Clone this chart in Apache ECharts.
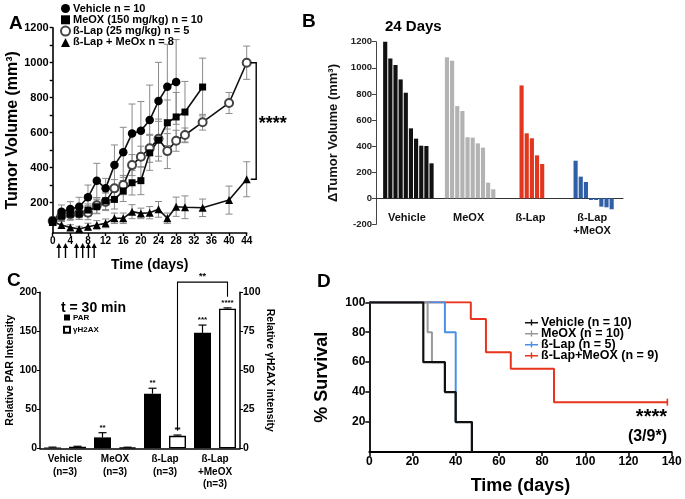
<!DOCTYPE html>
<html><head><meta charset="utf-8">
<script src="https://cdn.jsdelivr.net/npm/echarts@6/dist/echarts.min.js"></script>
<style>html,body{margin:0;padding:0;background:#fff}#c{width:685px;height:499px}</style>
</head><body><div id="c"></div>
<script>
// ---------- Panel A data ----------
const vehDays = [0,2,4,6,8,10,12,14,16,18,20,22,24,26,28];
const vehVals = [97,149,164,177,231,326,282,415,488,596,611,672,781,863,890];
const vehErr  = [20,38,42,54,70,99,57,115,143,168,167,200,221,242,242];
const meoDays = [0,2,4,6,8,10,12,14,16,18,20,22,24,26,28,30,34];
const meoVals = [90,124,135,135,158,177,211,219,267,314,326,485,558,657,690,718,861];
const meoErr  = [15,25,30,30,35,40,50,55,60,70,80,100,120,130,140,175,165];
const lapDays = [0,2,4,6,8,10,12,14,16,18,20,22,24,26,28,30,34,40,44];
const lapVals = [95,125,135,140,143,185,205,282,301,415,463,511,565,495,554,587,660,770,1000];
const lapErr  = [20,30,35,35,40,45,50,50,55,60,60,80,100,100,60,40,45,60,95];
const comDays = [0,2,4,6,8,10,12,14,16,18,20,22,24,26,28,30,34,40,44];
const comVals = [90,73,59,50,63,73,82,111,111,149,139,143,162,111,177,174,171,215,334];
const comErr  = [20,20,15,15,20,25,25,30,30,40,30,35,45,30,55,65,50,80,100];
const arrowDays = [1.4,2.9,5.4,6.8,8.1,9.4];
const aNames = ['Vehicle n = 10','MeOX (150 mg/kg) n = 10','ß-Lap (25 mg/kg) n = 5','ß-Lap + MeOx n = 8'];
const aYLabels = [200,400,600,800,1000,1200];
const aYTicks = [100,200,300,400,500,600,700,800,900,1000,1100,1200];

// ---------- Panel B data ----------
const bCats = ['Vehicle','MeOX','ß-Lap','ß-Lap\n+MeOX'];
const bVeh = [1200,1072,1021,911,809,536,457,403,401,268];
const bMeo = [1080,1054,707,669,468,465,421,388,120,69];
const bLap = [865,498,460,329,263];
const bCom = [288,166,125,-13,-13,-64,-69,-84];
const bColors = ['#111111','#b3b3b3','#e2361f','#2f5fa6'];

// ---------- Panel C data ----------
const cCats = ['Vehicle\n(n=3)','MeOX\n(n=3)','ß-Lap\n(n=3)','ß-Lap\n+MeOX\n(n=3)'];
const parVals = [1,14,70,148];
const parErr  = [0.5,6,7,10];
const parSig  = ['','**','**','***'];
const h2Vals  = [1,0.5,8,89.5];
const h2Err   = [0.3,0.2,0.5,0.5];
const h2Sig   = ['','','**','****'];

// ---------- Panel D data ----------
const dNames = ['Vehicle (n = 10)','MeOX (n = 10)','ß-Lap (n = 5)','ß-Lap+MeOX (n = 9)'];
const dVehT = [0,25,35,40,47.5];      const dVehS = [100,60,40,20,0];
const dMeoT = [0,27,29,35,40,47.5];   const dMeoS = [100,80,60,40,20,0];
const dLapT = [0,35,40,47.5];         const dLapS = [100,80,20,0];
const dComT = [0,47,54,65.5,85.5,138];const dComS = [100,88.9,66.7,55.6,33.3,33.3];

const F = '"Liberation Sans", Arial, Helvetica, sans-serif';
const chart = echarts.init(document.getElementById('c'), null, {renderer:'canvas'});

function pairs(xs, ys){ return xs.map((x,i)=>[x, ys[i]]); }
function triples(xs, ys, es){ return xs.map((x,i)=>[x, ys[i], es[i]]); }
const plain = v => String(v);

const A_MIN = 27;
function errRender(params, api){
  const x = api.value(0), m = api.value(1), e = api.value(2);
  const top = api.coord([x, m+e]);
  const lo = Math.max(m-e, A_MIN);
  const bot = api.coord([x, lo]);
  const w = 3.5, st = {stroke:'#8a8a8a', lineWidth:1};
  const ch = [
    {type:'line', shape:{x1:top[0],y1:top[1],x2:bot[0],y2:bot[1]}, style:st},
    {type:'line', shape:{x1:top[0]-w,y1:top[1],x2:top[0]+w,y2:top[1]}, style:st}
  ];
  if (m-e > A_MIN) ch.push({type:'line', shape:{x1:bot[0]-w,y1:bot[1],x2:bot[0]+w,y2:bot[1]}, style:st});
  return {type:'group', children:ch};
}
function errSeries(days, vals, errs){
  return {type:'custom', xAxisIndex:0, yAxisIndex:0, z:1, silent:true,
    data: triples(days, vals, errs), renderItem: errRender};
}
function lineA(name, days, vals, symbol, size, color){
  return {type:'line', name, xAxisIndex:0, yAxisIndex:0, z:3, data: pairs(days, vals),
    symbol, symbolSize:size, showAllSymbol:true,
    itemStyle:{color: color, borderColor:'#222', borderWidth: symbol==='emptyCircle'?1.2:0},
    lineStyle:{color:'#111', width:1.6}, animation:false};
}

// Panel B bar data built from groups
const bGroups = [bVeh, bMeo, bLap, bCom];
const bData = [];
bGroups.forEach((vals,g)=>vals.forEach((v,i)=>bData.push([g, i, v, vals.length])));

const BAR_W = 17, BAR_GAP = 8, OFF = (BAR_W + BAR_GAP)/2;

function cErrRender(vals, errs, sigs, dx){
  return function(params, api){
    const i = api.value(0);
    const m = vals[i], e = errs[i];
    const base = api.coord([i, m]);
    const top = api.coord([i, m+e]);
    const x = base[0] + dx;
    const ch = [
      {type:'line', shape:{x1:x,y1:base[1],x2:x,y2:top[1]}, style:{stroke:'#000',lineWidth:1.2}},
      {type:'line', shape:{x1:x-4,y1:top[1],x2:x+4,y2:top[1]}, style:{stroke:'#000',lineWidth:1.2}}
    ];
    if (sigs[i]) ch.push({type:'text', style:{text:sigs[i], x:x, y:top[1]-1, align:'center', verticalAlign:'bottom', font:'bold 8px '+F, fill:'#000'}});
    return {type:'group', children:ch};
  };
}

const option = {
  backgroundColor:'#fff',
  animation:false,
  textStyle:{fontFamily:F},
  title:[
    {text:'A', left:4, top:9, textStyle:{fontSize:19, fontWeight:'bold', fontFamily:F, color:'#000'}},
    {text:'B', left:297, top:7, textStyle:{fontSize:19, fontWeight:'bold', fontFamily:F, color:'#000'}},
    {text:'C', left:2, top:266, textStyle:{fontSize:19, fontWeight:'bold', fontFamily:F, color:'#000'}},
    {text:'D', left:312, top:267, textStyle:{fontSize:19, fontWeight:'bold', fontFamily:F, color:'#000'}},
    {text:'24 Days', left:380, top:14, textStyle:{fontSize:15, fontWeight:'bold', fontFamily:F, color:'#000'}},
    {text:'t = 30 min', left:56, top:296, textStyle:{fontSize:14, fontWeight:'bold', fontFamily:F, color:'#000'}},
    {text:'****', right:13, top:402, textStyle:{fontSize:20, fontWeight:'bold', fontFamily:F, color:'#000'}},
    {text:'(3/9*)', right:13, top:424, textStyle:{fontSize:16, fontWeight:'bold', fontFamily:F, color:'#000'}}
  ],
  legend:[
    {data:[{name:aNames[0],icon:'circle'},{name:aNames[1],icon:'rect'},{name:aNames[2],icon:'emptyCircle'},{name:aNames[3],icon:'triangle'}],
     orient:'vertical', left:60, top:3, padding:0, itemWidth:9, itemHeight:9, itemGap:0.3, selectedMode:false,
     textStyle:{fontSize:11, fontWeight:'bold', fontFamily:F, color:'#000', padding:[0,0,0,-2]}},
    {data:[{name:'PAR',icon:'rect'},{name:'γH2AX',icon:'rect'}], orient:'vertical', left:63, top:313.5, padding:0,
     itemWidth:6, itemHeight:6, itemGap:4.3, selectedMode:false,
     textStyle:{fontSize:8, fontWeight:'bold', fontFamily:F, color:'#000', padding:[0,0,0,-2]}},
    {data:dNames, orient:'vertical', left:525, top:316, padding:0, itemWidth:13, itemHeight:7, itemGap:-2, selectedMode:false,
     icon:'path://M0,3h13v1.6h-13z M5.8,0.5h1.4v6h-1.4z',
     textStyle:{fontSize:12.5, fontWeight:'bold', fontFamily:F, color:'#000', padding:[0,0,0,-2]}}
  ],
  grid:[
    {left:52.7, top:27.7, width:194, height:205.3},
    {left:376, top:41.7, width:247, height:182.7},
    {left:40, top:292.3, width:200, height:156},
    {left:369.3, top:302.3, width:302.4, height:149.7}
  ],
  xAxis:[
    {gridIndex:0, type:'value', min:0, max:44, interval:4,
     axisLine:{lineStyle:{color:'#000', width:1.6}}, axisTick:{length:3, lineStyle:{width:1.4,color:'#000'}},
     axisLabel:{fontSize:10, fontWeight:'bold', color:'#000', margin:3, fontFamily:F}, splitLine:{show:false},
     name:'Time (days)', nameLocation:'middle', nameGap:25,
     nameTextStyle:{fontSize:14, fontWeight:'bold', color:'#000', fontFamily:F}},
    {gridIndex:1, type:'category', data:bCats, offset:-26.1, axisLine:{onZero:false, lineStyle:{color:'#333', width:1}},
     axisTick:{show:false}, axisLabel:{fontSize:11, fontWeight:'bold', color:'#111', margin:13, lineHeight:13, fontFamily:F, interval:0}},
    {gridIndex:2, type:'category', data:cCats, axisLine:{lineStyle:{color:'#000', width:1.5}},
     axisTick:{show:false}, axisLabel:{fontSize:10, fontWeight:'bold', color:'#000', margin:5, lineHeight:12.4, fontFamily:F, interval:0}},
    {gridIndex:3, type:'value', min:0, max:140, interval:20,
     axisLine:{lineStyle:{color:'#000', width:1.8}}, axisTick:{length:4, lineStyle:{width:1.5,color:'#000'}},
     axisLabel:{fontSize:12, fontWeight:'bold', color:'#000', margin:4, fontFamily:F}, splitLine:{show:false},
     name:'Time (days)', nameLocation:'middle', nameGap:25,
     nameTextStyle:{fontSize:18, fontWeight:'bold', color:'#000', fontFamily:F}}
  ],
  yAxis:[
    {gridIndex:0, type:'value', min:A_MIN, max:1200,
     axisLine:{show:true, lineStyle:{color:'#000', width:1.6}},
     axisTick:{show:true, length:3, customValues:aYTicks, lineStyle:{width:1.4,color:'#000'}},
     axisLabel:{fontSize:11, fontWeight:'bold', color:'#000', margin:4, fontFamily:F, customValues:aYLabels, formatter:plain},
     splitLine:{show:false},
     name:'Tumor Volume (mm³)', nameLocation:'middle', nameGap:28, nameRotate:90,
     nameTextStyle:{fontSize:16, fontWeight:'bold', color:'#000', fontFamily:F}},
    {gridIndex:1, type:'value', min:-200, max:1200, interval:200,
     axisLine:{show:true, lineStyle:{color:'#444', width:1}}, axisTick:{show:true, length:4, lineStyle:{color:'#444'}},
     axisLabel:{fontSize:9.5, fontWeight:'bold', color:'#222', margin:4, fontFamily:F, formatter:plain}, splitLine:{show:false},
     name:'ΔTumor Volume (mm³)', nameLocation:'middle', nameGap:36, nameRotate:90,
     nameTextStyle:{fontSize:13, fontWeight:'bold', color:'#111', fontFamily:F}},
    {gridIndex:2, type:'value', min:0, max:200, interval:50, position:'left',
     axisLine:{show:true, lineStyle:{color:'#000', width:1.5}}, axisTick:{show:true, length:3, lineStyle:{color:'#000'}},
     axisLabel:{fontSize:10.5, fontWeight:'bold', color:'#000', margin:3, fontFamily:F}, splitLine:{show:false},
     name:'Relative PAR Intensity', nameLocation:'middle', nameGap:22, nameRotate:90,
     nameTextStyle:{fontSize:10.5, fontWeight:'bold', color:'#000', fontFamily:F}},
    {gridIndex:2, type:'value', min:0, max:100, interval:25, position:'right',
     axisLine:{show:true, lineStyle:{color:'#000', width:1.5}}, axisTick:{show:true, length:3, lineStyle:{color:'#000'}},
     axisLabel:{fontSize:10.5, fontWeight:'bold', color:'#000', margin:3, fontFamily:F}, splitLine:{show:false},
     name:'Relative γH2AX intensity', nameLocation:'middle', nameGap:18, nameRotate:-90,
     nameTextStyle:{fontSize:10.5, fontWeight:'bold', color:'#000', fontFamily:F}},
    {gridIndex:3, type:'value', min:0, max:100, interval:20,
     axisLine:{show:true, lineStyle:{color:'#000', width:1.8}}, axisTick:{show:true, length:4, lineStyle:{width:1.5,color:'#000'}},
     axisLabel:{fontSize:12, fontWeight:'bold', color:'#000', margin:4, fontFamily:F, showMinLabel:false}, splitLine:{show:false},
     name:'% Survival', nameLocation:'middle', nameGap:38, nameRotate:90,
     nameTextStyle:{fontSize:18, fontWeight:'bold', color:'#000', fontFamily:F}}
  ],
  series:[
    // ---- A ----
    errSeries(vehDays, vehVals, vehErr),
    errSeries(meoDays, meoVals, meoErr),
    errSeries(lapDays, lapVals, lapErr),
    errSeries(comDays, comVals, comErr),
    lineA(aNames[2], lapDays, lapVals, 'emptyCircle', 8, '#444'),
    lineA(aNames[1], meoDays, meoVals, 'rect', 7, '#000'),
    lineA(aNames[0], vehDays, vehVals, 'circle', 8.5, '#000'),
    lineA(aNames[3], comDays, comVals, 'triangle', 8, '#000'),
    {type:'custom', xAxisIndex:0, yAxisIndex:0, clip:false, silent:true, z:5,
     data: arrowDays.map(d=>[d, A_MIN]),
     renderItem:(p, api)=>{
       const c = api.coord([api.value(0), api.value(1)]);
       const x = c[0], y0 = c[1]+10, y1 = c[1]+25;
       return {type:'group', children:[
         {type:'line', shape:{x1:x,y1:y0+3,x2:x,y2:y1}, style:{stroke:'#000', lineWidth:1.4}},
         {type:'polygon', shape:{points:[[x,y0],[x-2.6,y0+5],[x+2.6,y0+5]]}, style:{fill:'#000'}}
       ]};
     }},
    {type:'custom', xAxisIndex:0, yAxisIndex:0, clip:false, silent:true, z:5,
     data: [[lapDays[lapDays.length-1], lapVals[lapVals.length-1], comVals[comVals.length-1]]],
     renderItem:(p, api)=>{
       const a = api.coord([api.value(0), api.value(1)]);
       const b = api.coord([api.value(0), api.value(2)]);
       const x0 = a[0]+4, x1 = a[0]+9.5;
       return {type:'group', children:[
         {type:'polyline', shape:{points:[[x0,a[1]],[x1,a[1]],[x1,b[1]],[x0,b[1]]]}, style:{stroke:'#000', lineWidth:1.4, fill:null}},
         {type:'text', style:{text:'****', x:x1+2.5, y:(a[1]+b[1])/2+3, align:'left', verticalAlign:'middle', font:'bold 18px '+F, fill:'#000'}}
       ]};
     }},
    // ---- B ----
    {type:'custom', xAxisIndex:1, yAxisIndex:1, silent:true, z:3, data:bData,
     renderItem:(p, api)=>{
       const g = api.value(0), i = api.value(1), v = api.value(2), n = api.value(3);
       const pitch = 5.15;
       const c0 = api.coord([g, 0]);
       const c1 = api.coord([g, v]);
       const x = c0[0] + (i - n/2)*pitch + 2;
       return {type:'rect', shape:{x:x, y:Math.min(c0[1],c1[1]), width:pitch-1, height:Math.abs(c0[1]-c1[1])},
               style:{fill:bColors[g]}};
     }},
    // ---- C ----
    {type:'bar', name:'PAR', xAxisIndex:2, yAxisIndex:2, data:parVals, barWidth:BAR_W, barGap:(BAR_GAP/BAR_W*100)+'%',
     itemStyle:{color:'#000'}, z:2},
    {type:'bar', name:'γH2AX', xAxisIndex:2, yAxisIndex:3, data:h2Vals, barWidth:BAR_W, barGap:(BAR_GAP/BAR_W*100)+'%',
     itemStyle:{color:'#fff', borderColor:'#000', borderWidth:1.4}, z:2},
    {type:'custom', xAxisIndex:2, yAxisIndex:2, clip:false, silent:true, z:4,
     data: parVals.map((v,i)=>[i, v]), renderItem: cErrRender(parVals, parErr, parSig, -OFF)},
    {type:'custom', xAxisIndex:2, yAxisIndex:3, clip:false, silent:true, z:4,
     data: h2Vals.map((v,i)=>[i, v]), renderItem: cErrRender(h2Vals, h2Err, h2Sig, OFF)},
    {type:'custom', xAxisIndex:2, yAxisIndex:3, clip:false, silent:true, z:4,
     data: [[2, 3]],
     renderItem:(p, api)=>{
       const l = api.coord([api.value(0), h2Vals[2]]);
       const r = api.coord([api.value(1), h2Vals[3]]);
       const xl = l[0]+OFF, xr = r[0]+OFF;
       const yl = l[1]-5, yr = r[1]-12, yt = yr-14.6;
       return {type:'group', children:[
         {type:'polyline', shape:{points:[[xl,yl],[xl,yt],[xr,yt],[xr,yr]]}, style:{stroke:'#000', lineWidth:1.1, fill:null}},
         {type:'text', style:{text:'**', x:(xl+xr)/2, y:yt-1, align:'center', verticalAlign:'bottom', font:'bold 9px '+F, fill:'#000'}}
       ]};
     }},
    // ---- D ----
    {type:'line', name:dNames[3], xAxisIndex:3, yAxisIndex:4, step:'end', data:pairs(dComT,dComS), z:2,
     symbol:(v,p)=>p.dataIndex===dComT.length-1?'rect':'none', symbolSize:[1.6,7], showAllSymbol:true,
     itemStyle:{color:'#e8341c'}, lineStyle:{color:'#e8341c', width:2}},
    {type:'line', name:dNames[2], xAxisIndex:3, yAxisIndex:4, step:'end', data:pairs(dLapT,dLapS), z:3,
     symbol:'none', itemStyle:{color:'#4a90e2'}, lineStyle:{color:'#4a90e2', width:2}},
    {type:'line', name:dNames[1], xAxisIndex:3, yAxisIndex:4, step:'end', data:pairs(dMeoT,dMeoS), z:4,
     symbol:'none', itemStyle:{color:'#999999'}, lineStyle:{color:'#999999', width:2}},
    {type:'line', name:dNames[0], xAxisIndex:3, yAxisIndex:4, step:'end', data:pairs(dVehT,dVehS), z:5,
     symbol:'none', itemStyle:{color:'#111'}, lineStyle:{color:'#111', width:2.2}}
  ]
};
chart.setOption(option);
</script></body></html>
